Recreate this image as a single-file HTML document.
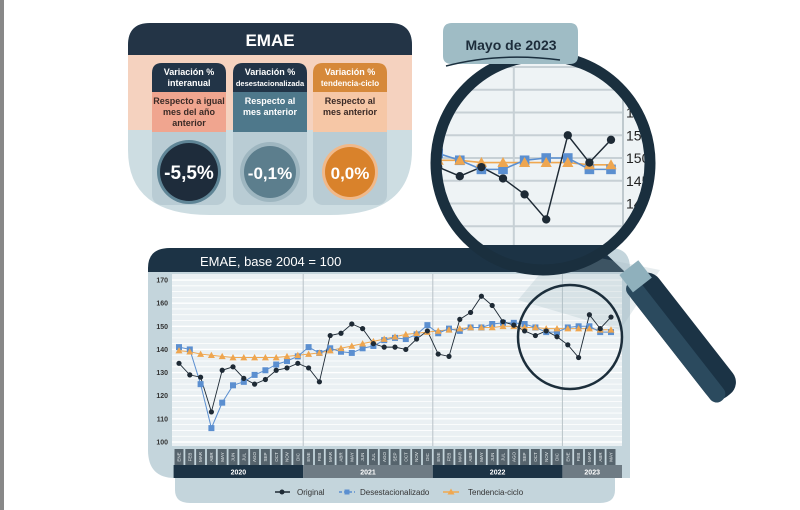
<!DOCTYPE html>
<html><head><meta charset="utf-8"><style>
body{margin:0;background:#fff;}
svg{display:block;font-family:"Liberation Sans",sans-serif;}
</style></head><body>
<svg id="s" width="800" height="510" viewBox="0 0 800 510">
<rect x="0" y="0" width="4" height="510" fill="#888"/>
<g>
  <path d="M128,45 Q128,23 150,23 L390,23 Q412,23 412,45 L412,150 Q412,215 330,215 L210,215 Q128,215 128,150 Z" fill="#cddde2"/>
  <rect x="128" y="55" width="284" height="75" fill="#f5d2bf"/>
  <path d="M128,55 L128,45 Q128,23 150,23 L390,23 Q412,23 412,45 L412,55 Z" fill="#233446"/>
  <text x="270" y="46" text-anchor="middle" font-size="17" font-weight="bold" fill="#fff">EMAE</text>
  <g>
    <rect x="152" y="63" width="74" height="142" rx="10" fill="#b9ccd4"/>
    <path d="M152,92 L152,73 Q152,63 162,63 L216,63 Q226,63 226,73 L226,92 Z" fill="#223447"/>
    <rect x="152" y="92" width="74" height="40" fill="#f0a58f"/>
    <text x="189" y="75" text-anchor="middle" font-size="9" font-weight="bold" fill="#fff">Variación %</text>
    <text x="189" y="86" text-anchor="middle" font-size="9" font-weight="bold" fill="#fff">interanual</text>
    <text x="189" y="104" text-anchor="middle" font-size="9" font-weight="bold" fill="#3a2a26">Respecto a igual</text>
    <text x="189" y="115" text-anchor="middle" font-size="9" font-weight="bold" fill="#3a2a26">mes del año</text>
    <text x="189" y="126" text-anchor="middle" font-size="9" font-weight="bold" fill="#3a2a26">anterior</text>
    <circle cx="189" cy="172" r="32" fill="#5f8596"/>
    <circle cx="189" cy="172" r="29" fill="#1e2c3b"/>
    <text x="189" y="179" text-anchor="middle" font-size="19" font-weight="bold" fill="#fff">-5,5%</text>
  </g>
  <g>
    <rect x="233" y="63" width="74" height="142" rx="10" fill="#b9ccd4"/>
    <path d="M233,92 L233,73 Q233,63 243,63 L297,63 Q307,63 307,73 L307,92 Z" fill="#223447"/>
    <rect x="233" y="92" width="74" height="40" fill="#4e788b"/>
    <text x="270" y="75" text-anchor="middle" font-size="9" font-weight="bold" fill="#fff">Variación %</text>
    <text x="270" y="86" text-anchor="middle" font-size="7.5" font-weight="bold" fill="#fff">desestacionalizada</text>
    <text x="270" y="104" text-anchor="middle" font-size="9" font-weight="bold" fill="#fff">Respecto al</text>
    <text x="270" y="115" text-anchor="middle" font-size="9" font-weight="bold" fill="#fff">mes anterior</text>
    <circle cx="270" cy="172" r="30" fill="#9eb6c0"/>
    <circle cx="270" cy="172" r="26" fill="#5c7e8d"/>
    <text x="270" y="179" text-anchor="middle" font-size="17" font-weight="bold" fill="#fff">-0,1%</text>
  </g>
  <g>
    <rect x="313" y="63" width="74" height="142" rx="10" fill="#b9ccd4"/>
    <path d="M313,92 L313,73 Q313,63 323,63 L377,63 Q387,63 387,73 L387,92 Z" fill="#d6893a"/>
    <rect x="313" y="92" width="74" height="40" fill="#f6c7a6"/>
    <text x="350" y="75" text-anchor="middle" font-size="9" font-weight="bold" fill="#fff">Variación %</text>
    <text x="350" y="86" text-anchor="middle" font-size="8" font-weight="bold" fill="#fff">tendencia-ciclo</text>
    <text x="350" y="104" text-anchor="middle" font-size="9" font-weight="bold" fill="#3a2a26">Respecto al</text>
    <text x="350" y="115" text-anchor="middle" font-size="9" font-weight="bold" fill="#3a2a26">mes anterior</text>
    <circle cx="350" cy="172" r="28" fill="#f0b98a"/>
    <circle cx="350" cy="172" r="25" fill="#d9822b"/>
    <text x="350" y="179" text-anchor="middle" font-size="17" font-weight="bold" fill="#fff">0,0%</text>
  </g>
</g>
<g>
  <path d="M175,478 L615,478 L615,490 Q615,503 600,503 L190,503 Q175,503 175,490 Z" fill="#c4d5dc"/>
  <path d="M148,270 Q148,248 170,248 L610,248 Q630,248 630,268 L630,478 L175,478 Q148,478 148,450 Z" fill="#c4d5dc"/>
  <path d="M148,272 L148,268 Q148,248 170,248 L600,248 L625,272 Z" fill="#1c3345"/>
  <text x="200" y="266" font-size="13" fill="#fff">EMAE, base 2004 = 100</text>
  <rect x="172" y="274" width="450" height="172" fill="#eaf0f3"/>
  <g id="grid"></g>
  <g id="yt"></g>
  <g id="months"></g>
  <g id="years"></g>
  <polygon points="518,300 620,330 660,270 560,250" fill="#9fb7c1" opacity="0.25"/>
  <g id="series"></g>
  <circle cx="570" cy="337" r="52" fill="none" stroke="#1c2e3b" stroke-width="2.5"/>
  <g>
    <g><line x1="275" y1="492" x2="290" y2="492" stroke="#1e2a35" stroke-width="1.5"/><circle cx="282" cy="492" r="2.5" fill="#1e2a35"/><text x="297" y="495" font-size="8" fill="#333">Original</text></g>
    <g><line x1="339" y1="492" x2="355" y2="492" stroke="#5b8fd0" stroke-width="1.5" stroke-dasharray="3,2"/><rect x="344.5" y="489.5" width="5" height="5" fill="#5b8fd0"/><text x="360" y="495" font-size="8" fill="#333">Desestacionalizado</text></g>
    <g><line x1="443" y1="492" x2="459" y2="492" stroke="#f0a850" stroke-width="1.5"/><path d="M451,488.5 L454.5,494.5 L447.5,494.5 Z" fill="#f0a850"/><text x="468" y="495" font-size="8" fill="#333">Tendencia-ciclo</text></g>
  </g>
</g>
<g>
  <g transform="rotate(-38 681 336)">
    <rect x="665" y="262" width="34" height="150" rx="15" fill="#1b3345"/>
    <rect x="665" y="262" width="17" height="150" rx="8" fill="#2b4a5e"/>
    <rect x="670" y="250" width="24" height="22" fill="#8fb0bc"/>
  </g>
  <defs><clipPath id="lens"><circle cx="543" cy="163" r="107"/></clipPath></defs>
  <circle cx="543" cy="163" r="107" fill="#eef3f5"/>
  <g clip-path="url(#lens)">
    <g id="mgrid"></g>
    <rect x="400" y="245" width="210" height="30" fill="#1c3345"/>
    <g id="mseries"></g>
  </g>
  <circle cx="543" cy="163" r="107" fill="none" stroke="#1a2f3e" stroke-width="11"/>
  <path d="M443,32 Q443,23 452,23 L570,23 Q578,23 578,32 L578,56 Q578,64 570,64 L452,64 Q443,64 443,56 Z" fill="#9fbcc5"/>
  <path d="M446,66 Q500,52 560,60" fill="none" stroke="#1a2f3e" stroke-width="1.5"/>
  <text x="511" y="50" text-anchor="middle" font-size="14" font-weight="bold" fill="#1d2d3b">Mayo de 2023</text>
</g>
<script>
const months=["ENE","FEB","MAR","ABR","MAY","JUN","JUL","AGO","SEP","OCT","NOV","DIC"];
const years=["2020","2021","2022","2023"];
const yTicks=[100,110,120,130,140,150,160,170];
const magTicks=[135,140,145,150,155,160];
const original=[134,129,128,113,131,132.5,127.5,125,127,131,132,134,
132,126,146,147,151,149,142.5,141,141,140,144.5,148,
138,137,153,156,163,159,152,150.5,148,146,148,145.5,
142,136.5,155,149,154];
const desest=[141,140,125,106,117,124.5,126,129,131,133.5,135,137,
141,138.5,140.5,139,138.5,140.5,141.5,144,145,144.5,146.5,150.5,
147,149,148,149.5,149.5,151,151.5,151.5,151,149.5,147.5,147.5,
149.5,150,150,147.5,147.5];
const tendencia=[139.5,139,138,137.5,137,136.5,136.5,136.5,136.5,136.5,137,137.5,
138,138.5,139.5,140.5,141.5,142.5,143.5,144.5,145.5,146.5,147,147.5,
148,148.5,149,149.5,149.5,149.5,150,150,149.5,149.5,149,149,
149,149,149,148.5,148.5];
const NS="http://www.w3.org/2000/svg";
function mk(t,a,p){const e=document.createElementNS(NS,t);for(const k in a)e.setAttribute(k,a[k]);p.appendChild(e);return e;}
const X=i=>179+i*10.8, Y=v=>442-(v-100)*2.314;
const XM=i=>611-(40-i)*21.6, YM=v=>158-(v-150)*4.55;
const g=document.getElementById('grid');
for(let v=100;v<=172;v+=2.5){const l=mk('line',{x1:172,x2:622,y1:Y(v),y2:Y(v),stroke:'#fff','stroke-width':v%10===0?1.4:0.8},g);

}
for(let k=1;k<4;k++){const l=mk('line',{x1:X(k*12-0.5),x2:X(k*12-0.5),y1:274,y2:446,stroke:'#b9c3c8','stroke-width':1},g);

}
const yt=document.getElementById('yt');
yTicks.forEach(v=>{const t=mk('text',{x:168,y:Y(v)+2.5,'text-anchor':'end','font-size':7,'font-weight':'bold',fill:'#333'},yt);t.textContent=v;

});
const mg=document.getElementById('months');
for(let i=0;i<41;i++){const r=mk('rect',{x:X(i)-4.5,y:449,width:9,height:16,fill:'#56646d'},mg);


const t=mk('text',{x:0,y:0,'font-size':4.5,fill:'#e8eef0','text-anchor':'middle',transform:`translate(${X(i)+1.6},457) rotate(-90)`},mg);t.textContent=months[i%12];

}
const yg=document.getElementById('years');
years.forEach((yr,k)=>{const x0=X(k*12)-5.4, x1=Math.min(X(k*12+11)+5.4,622);
const r=mk('rect',{x:x0,y:465,width:x1-x0,height:13,fill:k%2?'#6e7b84':'#1c3345'},yg);


const t=mk('text',{x:(x0+x1)/2,y:474.5,'text-anchor':'middle','font-size':7,'font-weight':'bold',fill:'#fff'},yg);t.textContent=yr;

});
function drawSeries(parent,xf,yf,sc,idx0){
  const pts=(arr)=>arr.map((v,i)=>[i,v]).filter(p=>p[0]>=idx0).map(p=>xf(p[0])+','+yf(p[1])).join(' ');
  const l1=mk('polyline',{points:pts(tendencia),fill:'none',stroke:'#f0a850','stroke-width':1*sc},parent);
  
  
  const l2=mk('polyline',{points:pts(desest),fill:'none',stroke:'#5b8fd0','stroke-width':1*sc},parent);
  
  
  const l3=mk('polyline',{points:pts(original),fill:'none',stroke:'#1e2a35','stroke-width':0.9*sc},parent);
  
  
  for(let i=idx0;i<41;i++){
    const s=3*sc;
    const r=mk('rect',{x:xf(i)-s,y:yf(desest[i])-s,width:2*s,height:2*s,fill:'#5b8fd0'},parent);
    
    
    const a=3.5*sc, cx=xf(i), cy=yf(tendencia[i]);
    const p=mk('path',{d:`M${cx},${cy-a} L${cx+a},${cy+a*0.8} L${cx-a},${cy+a*0.8} Z`,fill:'#eea650'},parent);
    
    
    const c=mk('circle',{cx:xf(i),cy:yf(original[i]),r:2.6*sc,fill:'#1e2a35'},parent);
    
    
  }
}
drawSeries(document.getElementById('series'),X,Y,1,0);
const mgg=document.getElementById('mgrid');
for(let v=125;v<=175;v+=5){const l=mk('line',{x1:420,x2:623,y1:YM(v),y2:YM(v),stroke:'#c7d0d5','stroke-width':2},mgg);

}
[XM(35.5),XM(23.5)].forEach(x=>{const l=mk('line',{x1:x,x2:x,y1:50,y2:280,stroke:'#c7d0d5','stroke-width':2},mgg);

});
const ax=mk('line',{x1:623,x2:623,y1:50,y2:280,stroke:'#bfc9ce','stroke-width':2},mgg);


magTicks.forEach(v=>{const t=mk('text',{x:626,y:YM(v)+5,'font-size':14,fill:'#222'},mgg);t.textContent=v;

});
drawSeries(document.getElementById('mseries'),XM,YM,1.6,31);
</script>
</svg>
</body></html>
